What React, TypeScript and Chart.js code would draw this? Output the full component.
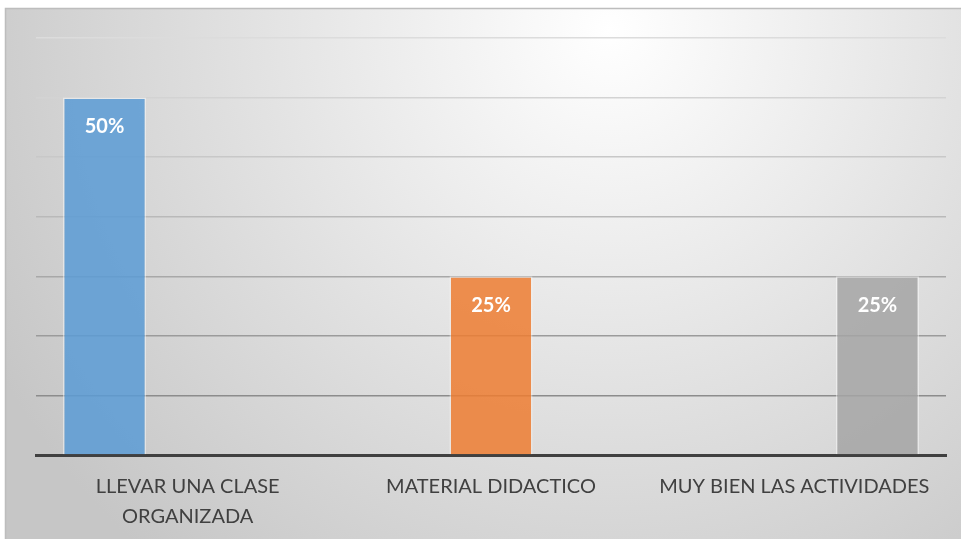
import React, { useEffect, useRef } from "react";
import { Chart, registerables } from "chart.js";

Chart.register(...registerables);

const categories: (string | string[])[] = [
  ["LLEVAR UNA CLASE", "ORGANIZADA"],
  "MATERIAL DIDACTICO",
  "MUY BIEN LAS ACTIVIDADES",
];
const seriesNames = ["Serie 1", "Serie 2", "Serie 3"];
const serie1: (number | null)[] = [50, null, null];
const serie2: (number | null)[] = [null, 25, null];
const serie3: (number | null)[] = [null, null, 25];
const seriesColors = [
  "rgba(91,155,213,0.85)",
  "rgba(237,125,49,0.85)",
  "rgba(165,165,165,0.85)",
];
const yMax = 350 / 6;
const yStep = 25 / 3;
const gridColors = [
  "rgba(0,0,0,0)",
  "#8c8c8c",
  "#9b9b9b",
  "#a8a8a8",
  "#b9b9b9",
  "#c8c8c8",
  "#d3d3d3",
  "#dcdcdc",
];

const FONT = "Lato, 'Open Sans', 'Noto Sans', sans-serif";

const bgPlugin = {
  id: "bgFrame",
  beforeDraw(chart: any) {
    const { ctx, width, height } = chart;
    ctx.save();
    ctx.fillStyle = "#ffffff";
    ctx.fillRect(0, 0, width, height);
    const g = ctx.createRadialGradient(610, 30, 0, 610, 30, 700);
    g.addColorStop(0, "#ffffff");
    g.addColorStop(1, "#c6c6c6");
    ctx.fillStyle = g;
    ctx.fillRect(5, 8, width - 5, height - 8);
    ctx.strokeStyle = "#bdbdbd";
    ctx.lineWidth = 1.5;
    ctx.beginPath();
    ctx.moveTo(5.5, height);
    ctx.lineTo(5.5, 8.5);
    ctx.lineTo(width, 8.5);
    ctx.stroke();
    ctx.restore();
  },
};

const labelPlugin = {
  id: "barLabels",
  afterDatasetsDraw(chart: any) {
    const { ctx } = chart;
    ctx.save();
    ctx.fillStyle = "#ffffff";
    ctx.font = `bold 20px ${FONT}`;
    ctx.textAlign = "center";
    ctx.textBaseline = "middle";
    chart.data.datasets.forEach((ds: any, di: number) => {
      const meta = chart.getDatasetMeta(di);
      meta.data.forEach((bar: any, i: number) => {
        const v = ds.data[i];
        if (v === null || v === undefined) return;
        ctx.fillText(`${v}%`, bar.x, bar.y + 29);
      });
    });
    ctx.restore();
  },
};

export default function App() {
  const ref = useRef<HTMLCanvasElement>(null);
  useEffect(() => {
    if (!ref.current) return;
    const chart = new Chart(ref.current, {
      type: "bar",
      data: {
        labels: categories,
        datasets: [serie1, serie2, serie3].map((d, i) => ({
          label: seriesNames[i],
          data: d,
          backgroundColor: seriesColors[i],
          borderColor: "rgba(255,255,255,0.45)",
          borderWidth: 1.5,
          categoryPercentage: 0.822,
          barPercentage: 1,
        })),
      },
      options: {
        animation: false,
        responsive: false,
        maintainAspectRatio: false,
        layout: { padding: { left: 36, right: 15, top: 38, bottom: 0 } },
        plugins: {
          legend: { display: false },
          tooltip: { enabled: false },
        },
        scales: {
          x: {
            grid: { display: false, drawTicks: false },
            border: { display: true, color: "#404040", width: 3 },
            ticks: {
              color: "#404040",
              font: { family: FONT, size: 20, lineHeight: 1.5 },
              padding: 17,
              maxRotation: 0,
              autoSkip: false,
            },
            afterFit(scale: any) {
              scale.height = 84;
            },
          },
          y: {
            min: 0,
            max: yMax,
            ticks: { display: false, stepSize: yStep },
            border: { display: false },
            grid: {
              drawTicks: false,
              lineWidth: 1.5,
              color: (c: any) => gridColors[c.index] || "#cccccc",
            },
          },
        },
      },
      plugins: [bgPlugin, labelPlugin],
    });
    return () => chart.destroy();
  }, []);
  return (
    <div style={{ position: "absolute", left: 0, top: 0, width: 961, height: 539 }}>
      <canvas ref={ref} width={961} height={539} style={{ display: "block" }} />
    </div>
  );
}
